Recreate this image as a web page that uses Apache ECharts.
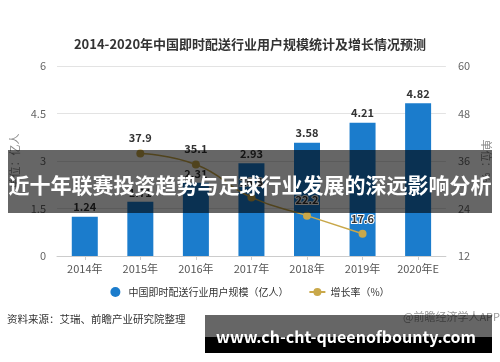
<!DOCTYPE html>
<html><head><meta charset="utf-8">
<script src="https://cdn.jsdelivr.net/npm/echarts@6/dist/echarts.min.js"></script>
<style>html,body{margin:0;padding:0;background:#fff}#c{width:500px;height:362px}</style>
</head><body><div id="c"></div>
<script>
const categories = ['2014年','2015年','2016年','2017年','2018年','2019年','2020年E'];
const users = [1.24, 1.71, 2.31, 2.93, 3.58, 4.21, 4.82];
const growth = [null, 37.9, 35.1, 26.8, 22.2, 17.6, null];
const leftTicks = {min: 0, max: 6, interval: 1.5};
const rightTicks = {min: 12, max: 60, interval: 12};
const titleText = '2014-2020年中国即时配送行业用户规模统计及增长情况预测';
const barName = '中国即时配送行业用户规模（亿人）';
const lineName = '增长率（%）';
const sourceText = '资料来源：艾瑞、前瞻产业研究院整理';
const creditText = '@前瞻经济学人APP';
const bannerText = '近十年联赛投资趋势与足球行业发展的深远影响分析';
const urlText = 'www.ch-cht-queenofbounty.com';

const FONT = '"Noto Sans CJK SC","Noto Sans",sans-serif';
const chart = echarts.init(document.getElementById('c'), null, {renderer: 'canvas'});
chart.setOption({
  animation: false,
  textStyle: {fontFamily: FONT},
  title: {text: titleText, left: 'center', top: 33,
    textStyle: {fontSize: 13, fontWeight: 'bold', color: '#333', fontFamily: FONT}},
  grid: {left: 57, right: 49, top: 66, bottom: 106},
  legend: {bottom: 60, left: 'center', itemGap: 20, itemWidth: 16, itemHeight: 10,
    textStyle: {fontSize: 10, color: '#333'},
    data: [{name: barName, icon: 'circle'}, {name: lineName}]},
  xAxis: {type: 'category', data: categories,
    axisLine: {lineStyle: {color: '#cccccc'}},
    axisTick: {show: true, alignWithLabel: true, length: 4, lineStyle: {color: '#cccccc'}},
    axisLabel: {color: '#555', fontSize: 11, margin: 7}},
  yAxis: [
    {type: 'value', min: leftTicks.min, max: leftTicks.max, interval: leftTicks.interval,
     name: '单位：亿人', nameLocation: 'middle', nameGap: 34, nameRotate: 90,
     nameTextStyle: {color: '#888', fontSize: 11},
     axisLine: {show: false}, axisTick: {show: false},
     axisLabel: {color: '#666', fontSize: 11, margin: 11},
     splitLine: {lineStyle: {color: '#e3e3e3'}}},
    {type: 'value', min: rightTicks.min, max: rightTicks.max, interval: rightTicks.interval,
     name: '单位：%', nameLocation: 'middle', nameGap: 29, nameRotate: -90,
     nameTextStyle: {color: '#888', fontSize: 11},
     axisLine: {show: false}, axisTick: {show: false},
     axisLabel: {color: '#666', fontSize: 11, margin: 12},
     splitLine: {show: false}}
  ],
  series: [
    {name: barName, type: 'bar', data: users, barWidth: 26, yAxisIndex: 0,
     itemStyle: {color: '#1b7ccc'},
     label: {show: true, position: 'top', color: '#333', fontSize: 11, fontWeight: 'bold', distance: 4}},
    {name: lineName, type: 'line', data: growth, yAxisIndex: 1, smooth: true,
     symbol: 'circle', symbolSize: 8, connectNulls: false,
     lineStyle: {color: '#c9a84a', width: 1.5},
     itemStyle: {color: '#c9a84a'},
     label: {show: true, position: 'top', color: '#333', fontSize: 11, fontWeight: 'bold', distance: 6,
       textBorderColor: '#fff', textBorderWidth: 2}}
  ],
  graphic: [
    {type: 'text', left: 7, top: 314, z: 10,
     style: {text: sourceText, fill: '#333', font: '10.5px ' + FONT}},
    {type: 'text', right: 0, top: 311, z: 10,
     style: {text: creditText, fill: '#999', font: '11px ' + FONT}},
    {type: 'rect', shape: {x: 8, y: 150, width: 484, height: 63}, z: 100,
     style: {fill: 'rgba(0,0,0,0.6)'}},
    {type: 'text', x: 250, y: 185, z: 101,
     style: {text: bannerText, fill: '#fff', font: 'bold 21px ' + FONT, align: 'center', verticalAlign: 'middle'}},
    {type: 'rect', shape: {x: 205, y: 315, width: 287, height: 22}, z: 100,
     style: {fill: 'rgba(0,0,0,0.6)'}},
    {type: 'rect', shape: {x: 205, y: 337, width: 287, height: 16}, z: 100,
     style: {fill: '#000'}},
    {type: 'text', x: 346, y: 337, z: 101,
     style: {text: urlText, fill: '#fff', font: 'bold 16px ' + FONT, align: 'center', verticalAlign: 'middle'}}
  ]
});
</script></body></html>
